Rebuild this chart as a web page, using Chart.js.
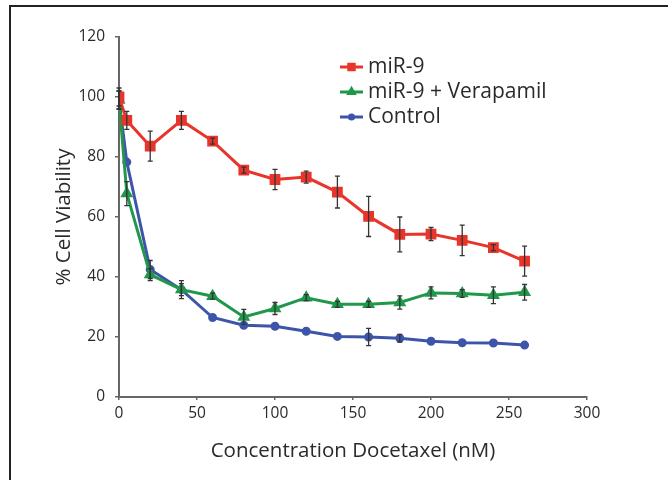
<!DOCTYPE html>
<html>
<head>
<meta charset="utf-8">
<script src="https://cdn.jsdelivr.net/npm/chart.js@4.4.1/dist/chart.umd.min.js"></script>
<style>
  html, body { margin: 0; padding: 0; background: #fff; }
  #wrap { width: 668px; height: 480px; }
</style>
</head>
<body>
<div id="wrap"><canvas id="chart" width="668" height="480"></canvas></div>
<script>
// concentrations (nM) and viability values
const concentrations = [0, 5, 20, 40, 60, 80, 100, 120, 140, 160, 180, 200, 220, 240, 260];
const mir9 = [100, 92.2, 83.6, 92.2, 85.3, 75.6, 72.5, 73.3, 68.3, 60.2, 54.2, 54.3, 52.2, 49.8, 45.3];
const mir9Err = [3, 3, 5, 3, 1, 1, 3.4, 2, 5.3, 6.7, 5.8, 2.2, 5.1, 1, 5];
const verapamil = [99, 67.8, 40.8, 35.8, 33.6, 26.7, 29.5, 33.1, 30.9, 30.9, 31.5, 34.7, 34.5, 33.9, 34.9];
const verapamilErr = [3, 4, 2, 2, 1, 2.5, 2, 1, 1, 1, 2.2, 2, 1.3, 2.8, 2.6];
const control = [99, 78.3, 42.5, 35.8, 26.5, 23.9, 23.6, 21.9, 20.2, 20, 19.6, 18.6, 18.1, 18, 17.3];
const controlErr = [3, 0, 3, 3, 0.5, 0.5, 0.5, 0.5, 0.5, 2.9, 1.3, 0.5, 0.5, 0.5, 0.5];

const seriesLabels = ['miR-9', 'miR-9 + Verapamil', 'Control'];
const xTicks = [0, 50, 100, 150, 200, 250, 300];
const yTicks = [0, 20, 40, 60, 80, 100, 120];

const FONT = '"Open Sans", sans-serif';
const TEXT = '#2a2a2a';

function toPoints(values, errs) {
    return concentrations.map((c, i) => ({ x: c, y: values[i], err: errs[i] }));
}

// white background and the thin frame on top and left
const framePlugin = {
    id: 'frame',
    beforeDraw(chart) {
        const ctx = chart.ctx;
        ctx.save();
        ctx.fillStyle = '#fff';
        ctx.fillRect(0, 0, chart.width, chart.height);
        ctx.strokeStyle = '#222';
        ctx.lineWidth = 2;
        ctx.beginPath();
        ctx.moveTo(10, 480);
        ctx.lineTo(10, 6);
        ctx.lineTo(668, 6);
        ctx.stroke();
        ctx.restore();
    }
};

// error bars, drawn with the chart's own scales
const errorBarPlugin = {
    id: 'errorBars',
    afterDatasetsDraw(chart) {
        const ctx = chart.ctx;
        const xs = chart.scales.x, ys = chart.scales.y;
        ctx.save();
        ctx.strokeStyle = '#333';
        ctx.lineWidth = 1.3;
        chart.data.datasets.forEach(ds => {
            ds.data.forEach(p => {
                if (!p.err || p.err < 0.8) return;
                const x = xs.getPixelForValue(p.x);
                const top = ys.getPixelForValue(p.y + p.err);
                const bot = ys.getPixelForValue(p.y - p.err);
                ctx.beginPath();
                ctx.moveTo(x, top); ctx.lineTo(x, bot);
                ctx.moveTo(x - 2.5, top); ctx.lineTo(x + 2.5, top);
                ctx.moveTo(x - 2.5, bot); ctx.lineTo(x + 2.5, bot);
                ctx.stroke();
            });
        });
        ctx.restore();
    }
};

// legend in the upper middle of the plot
const legendPlugin = {
    id: 'customLegend',
    afterDraw(chart) {
        const ctx = chart.ctx;
        ctx.save();
        ctx.font = '21px ' + FONT;
        ctx.textBaseline = 'middle';
        chart.data.datasets.forEach((ds, i) => {
            const y = 67 + i * 25;
            ctx.strokeStyle = ds.borderColor;
            ctx.lineWidth = 3;
            ctx.beginPath();
            ctx.moveTo(340, y); ctx.lineTo(363, y);
            ctx.stroke();
            Chart.helpers.drawPoint(ctx, {
                pointStyle: ds.pointStyle, radius: ds.pointRadius * 0.7, rotation: 0, borderWidth: 1
            }, 351.5, y);
            ctx.fillStyle = ds.borderColor;
            ctx.fill();
            ctx.fillStyle = TEXT;
            ctx.fillText(ds.label, 368, y);
        });
        ctx.restore();
    }
};

new Chart(document.getElementById('chart'), {
    type: 'line',
    data: {
        datasets: [
            {
                label: seriesLabels[0],
                data: toPoints(mir9, mir9Err),
                borderColor: '#e8352b',
                backgroundColor: '#e8352b',
                pointStyle: 'rect',
                pointRadius: 5.5,
                borderWidth: 3
            },
            {
                label: seriesLabels[1],
                data: toPoints(verapamil, verapamilErr),
                borderColor: '#20974a',
                backgroundColor: '#20974a',
                pointStyle: 'triangle',
                pointRadius: 4.5,
                borderWidth: 3
            },
            {
                label: seriesLabels[2],
                data: toPoints(control, controlErr),
                borderColor: '#3d55a8',
                backgroundColor: '#3d55a8',
                pointStyle: 'circle',
                pointRadius: 3,
                borderWidth: 3
            }
        ]
    },
    options: {
        responsive: false,
        animation: false,
        layout: { padding: { top: 37, right: 81, bottom: 0, left: 0 } },
        plugins: {
            legend: { display: false },
            tooltip: { enabled: false }
        },
        elements: { point: { borderWidth: 0 }, line: { tension: 0 } },
        scales: {
            x: {
                type: 'linear',
                min: 0,
                max: 300,
                afterFit: s => { s.height = 83; },
                afterBuildTicks: s => { s.ticks = xTicks.map(v => ({ value: v })); },
                grid: { drawOnChartArea: false, drawTicks: true, tickLength: 3, color: '#666', lineWidth: 1.5 },
                border: { display: true, color: '#666', width: 2 },
                ticks: { font: { family: FONT, size: 15.5 }, color: TEXT, padding: 4, maxRotation: 0 },
                title: {
                    display: true,
                    text: 'Concentration Docetaxel (nM)',
                    font: { family: FONT, size: 20.5 },
                    color: TEXT,
                    padding: { top: 0, bottom: 17 }
                }
            },
            y: {
                min: 0,
                max: 120,
                afterFit: s => { s.width = 119; },
                afterBuildTicks: s => { s.ticks = yTicks.map(v => ({ value: v })); },
                grid: { drawOnChartArea: false, drawTicks: true, tickLength: 4, color: '#666', lineWidth: 1.5 },
                border: { display: true, color: '#666', width: 2 },
                ticks: { font: { family: FONT, size: 15.5 }, color: TEXT, padding: 10 },
                title: {
                    display: true,
                    text: '% Cell Viability',
                    font: { family: FONT, size: 20.5 },
                    color: TEXT,
                    padding: { top: 52, bottom: 0 }
                }
            }
        }
    },
    plugins: [framePlugin, errorBarPlugin, legendPlugin]
});
</script>
</body>
</html>
